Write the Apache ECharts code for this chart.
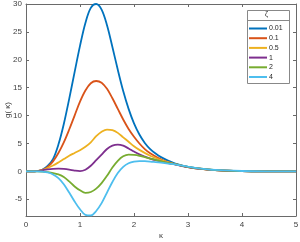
<!DOCTYPE html>
<html>
<head>
<meta charset="utf-8">
<script src="https://cdn.jsdelivr.net/npm/echarts@6/dist/echarts.min.js"></script>
<style>
html,body{margin:0;padding:0;background:#fff;}
#c{width:300px;height:242px;}
</style>
</head>
<body>
<div id="c"></div>
<script>
const kappa = [0,0.1,0.2,0.3,0.4,0.5,0.6,0.7,0.8,0.9,1.0,1.1,1.2,1.3,1.4,1.5,1.6,1.7,1.8,1.9,2.0,2.1,2.2,2.3,2.4,2.5,2.6,2.7,2.8,3.0,3.2,3.5,4.0,4.5,5.0];
const zetaNames = ['0.01','0.1','0.5','1','2','4'];
const g_001 = [0,0,0.05,0.3,1.0,2.2,4.8,8.5,13.0,17.8,22.5,26.6,29.3,30.0,29.0,26.2,22.3,18.2,14.4,11.2,8.6,6.6,5.1,4.0,3.2,2.55,2.05,1.65,1.3,0.8,0.5,0.22,0.06,0.01,0];
const g_01  = [0,0,0.05,0.25,0.8,1.8,3.3,5.2,7.5,10.0,12.5,14.5,15.8,16.2,15.9,14.8,13.1,11.2,9.3,7.6,6.2,5.0,4.0,3.25,2.65,2.15,1.75,1.45,1.2,0.78,0.48,0.22,0.06,0.01,0];
const g_05  = [0,0,0.05,0.25,0.6,1.05,1.6,2.2,2.8,3.3,3.8,4.4,5.2,6.3,7.1,7.5,7.4,6.9,6.1,5.3,4.5,3.85,3.3,2.8,2.4,2.0,1.7,1.42,1.18,0.78,0.48,0.22,0.06,0.01,0];
const g_1   = [0,0,0.05,0.2,0.35,0.45,0.5,0.45,0.33,0.15,0.05,0.3,1.0,2.0,3.0,4.0,4.6,4.8,4.6,4.1,3.55,3.05,2.65,2.3,2.0,1.75,1.55,1.35,1.15,0.78,0.5,0.22,0.06,0.01,0];
const g_2   = [0,0,0,-0.05,-0.15,-0.3,-0.55,-1.0,-1.8,-2.7,-3.4,-3.85,-3.7,-3.1,-2.1,-0.8,0.7,1.9,2.7,3.0,2.95,2.8,2.55,2.3,2.05,1.8,1.58,1.38,1.2,0.82,0.52,0.24,0.06,0.01,0];
const g_4   = [0,0,0,-0.05,-0.2,-0.55,-1.2,-2.3,-3.8,-5.4,-6.8,-7.8,-7.9,-7.1,-5.7,-3.8,-1.9,-0.3,0.8,1.45,1.75,1.85,1.82,1.75,1.65,1.55,1.45,1.32,1.18,0.85,0.55,0.26,0.07,0.01,0];
const xTicks = [0,1,2,3,4,5];
const yTicks = [-5,0,5,10,15,20,25,30];

const seriesValues = [g_001,g_01,g_05,g_1,g_2,g_4];
const colors = ['#0072BD','#D95319','#EDB120','#7E2F8E','#77AC30','#4DBEEE'];
const FONT = 'Liberation Sans, Helvetica, Arial, sans-serif';
const axisColor = '#6a6a6a';
const labelColor = '#404040';

const chart = echarts.init(document.getElementById('c'), null, {renderer:'canvas'});

const series = seriesValues.map((vals, i) => ({
  name: zetaNames[i],
  type: 'line',
  data: kappa.map((k, j) => [k, vals[j]]),
  showSymbol: false,
  symbol: 'none',
  smooth: 0.35,
  lineStyle: {width: 1.8, color: colors[i]},
  itemStyle: {color: colors[i]},
  clip: true,
  z: 2 + i
}));

const common = {
  axisLine: {show: true, onZero: false, lineStyle: {color: axisColor, width: 1}},
  axisTick: {show: true, inside: true, length: 3, lineStyle: {color: axisColor, width: 1}},
  splitLine: {show: false}
};

chart.setOption({
  animation: false,
  backgroundColor: '#fff',
  textStyle: {fontFamily: FONT},
  grid: {left: 26, right: 4, top: 4, bottom: 26, containLabel: false, outerBoundsMode: 'none'},
  xAxis: [
    Object.assign({}, common, {
      type: 'value', min: 0, max: 5, interval: 1, position: 'bottom',
      axisLabel: {fontSize: 8, color: labelColor, margin: 5, fontFamily: FONT},
      name: 'κ', nameLocation: 'middle', nameGap: 16, nameMoveOverlap: false,
      nameTextStyle: {fontSize: 8, color: labelColor, fontFamily: FONT}
    }),
    Object.assign({}, common, {
      type: 'value', min: 0, max: 5, interval: 1, position: 'top',
      axisLabel: {show: false}
    })
  ],
  yAxis: [
    Object.assign({}, common, {
      type: 'value', min: -8, max: 30, position: 'left',
      axisTick: {show: true, inside: true, length: 3, customValues: yTicks, lineStyle: {color: axisColor, width: 1}},
      axisLabel: {fontSize: 8, color: labelColor, margin: 4, customValues: yTicks, fontFamily: FONT},
      name: 'g( κ)', nameLocation: 'middle', nameRotate: 90, nameGap: 14, nameMoveOverlap: false,
      nameTextStyle: {fontSize: 8, color: labelColor, fontFamily: FONT}
    }),
    Object.assign({}, common, {
      type: 'value', min: -8, max: 30, position: 'right',
      axisTick: {show: true, inside: true, length: 3, customValues: yTicks, lineStyle: {color: axisColor, width: 1}},
      axisLabel: {show: false}
    })
  ],
  legend: {
    orient: 'vertical',
    left: 249,
    top: 24,
    itemWidth: 18,
    itemHeight: 2,
    itemGap: 0.7,
    icon: 'rect',
    padding: 0,
    z: 10,
    textStyle: {fontSize: 7, color: '#262626', lineHeight: 9, padding: [0,0,0,-3], fontFamily: FONT},
    data: zetaNames
  },
  graphic: [
    {type: 'rect', left: 247, top: 10, z: 5, silent: true,
     shape: {width: 42, height: 73}, style: {fill: '#fff', stroke: '#888', lineWidth: 1}},
    {type: 'line', z: 6, silent: true,
     shape: {x1: 247, y1: 20.5, x2: 289, y2: 20.5}, style: {stroke: '#888', lineWidth: 1}},
    {type: 'text', left: 265, top: 11, z: 6, silent: true,
     style: {text: 'ζ', fontSize: 7, fill: '#262626', fontFamily: FONT}}
  ],
  series: series
});
</script>
</body>
</html>
